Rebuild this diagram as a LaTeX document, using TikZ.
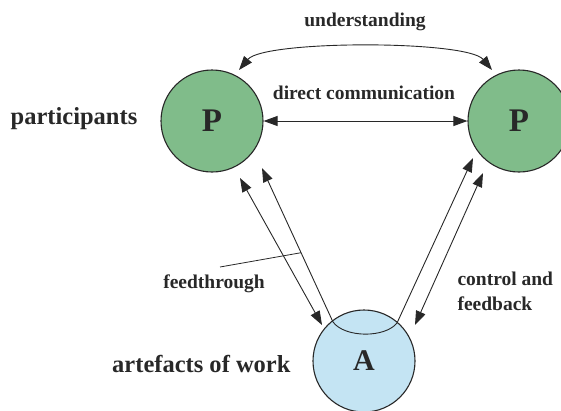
\documentclass[tikz,border=0pt]{standalone}
\usepackage{fontspec}
\setmainfont{Liberation Serif}
\usetikzlibrary{arrows.meta,calc}
\definecolor{partgreen}{RGB}{128,188,138}
\definecolor{artblue}{RGB}{196,228,243}
\definecolor{ink}{RGB}{40,40,40}
\begin{document}
\begin{tikzpicture}[x=1pt,y=-1pt,
  every node/.style={text=ink},
  party/.style={circle,draw=ink,line width=1.1pt,fill=partgreen,minimum size=102pt,inner sep=0pt,
    font=\bfseries\fontsize{33}{36}\selectfont},
  artefact/.style={circle,draw=ink,line width=1.1pt,fill=artblue,minimum size=102pt,inner sep=0pt,
    font=\bfseries\fontsize{30}{33}\selectfont},
  biglabel/.style={font=\bfseries\fontsize{24.5}{28}\selectfont},
  smalllabel/.style={font=\bfseries\fontsize{19.5}{25}\selectfont,align=left},
  link/.style={draw=ink,line width=0.9pt},
  tip/.style={{Triangle[length=14pt,width=10pt]}-{Triangle[length=14pt,width=10pt]}}
]
\useasboundingbox (0,0) rectangle (561,410);

% the three actors
\node[party] (P1) at (212,121) {P};
\node[party] (P2) at (519,121) {P};
\node[artefact] (A) at (364,361) {A};

% labels
\node[biglabel] (lpart) at (74,119) {participants};
\node[biglabel,anchor=east] (lart) at (294,364) {artefacts of work};
\node[smalllabel] (lund) at (365,22) {understanding};
\node[smalllabel] (ldir) at (364,93) {direct communication};
\node[smalllabel] (lfeed) at (214,284) {feedthrough};
\node[smalllabel,anchor=north west] (lctl) at (454,268) {control and\\feedback};

% arrow end points near the circles
\coordinate (u1) at ($(P1)+(27,-51)$);
\coordinate (u2) at ($(P2)+(-27,-51)$);
\coordinate (lo1) at ($(P1)+(28,57)$);
\coordinate (lo2) at ($(A)+(-42,-36)$);
\coordinate (li1) at ($(P1)+(50,47)$);
\coordinate (li2) at ($(A)+(-31,-39)$);
\coordinate (ri2) at ($(A)+(33,-38)$);
\coordinate (ri1) at ($(P2)+(-46,37)$);
\coordinate (ro1) at ($(P2)+(-36,52)$);
\coordinate (ro2) at ($(A)+(51,-36)$);

% understanding
\draw[link,tip] (u1) .. controls ($(u1)+(25,-30)$) and ($(u2)+(-25,-30)$) .. (u2);

% direct communication
\draw[link,tip] (P1) -- (P2);

% feedthrough: from one participant through the artefact to the other
\draw[link,tip] (li1) -- (li2) .. controls ($(li2)+(12,16)$) and ($(ri2)+(-12,15)$) .. (ri2) -- (ri1);

% control and feedback
\draw[link,tip] (lo1) -- (lo2);
\draw[link,tip] (ro1) -- (ro2);

% pointer from the feedthrough label
\coordinate (fp) at (220,267);
\draw[link,line width=0.8pt] (fp) -- ($(li1)!0.55!(li2)$);
\end{tikzpicture}
\end{document}
